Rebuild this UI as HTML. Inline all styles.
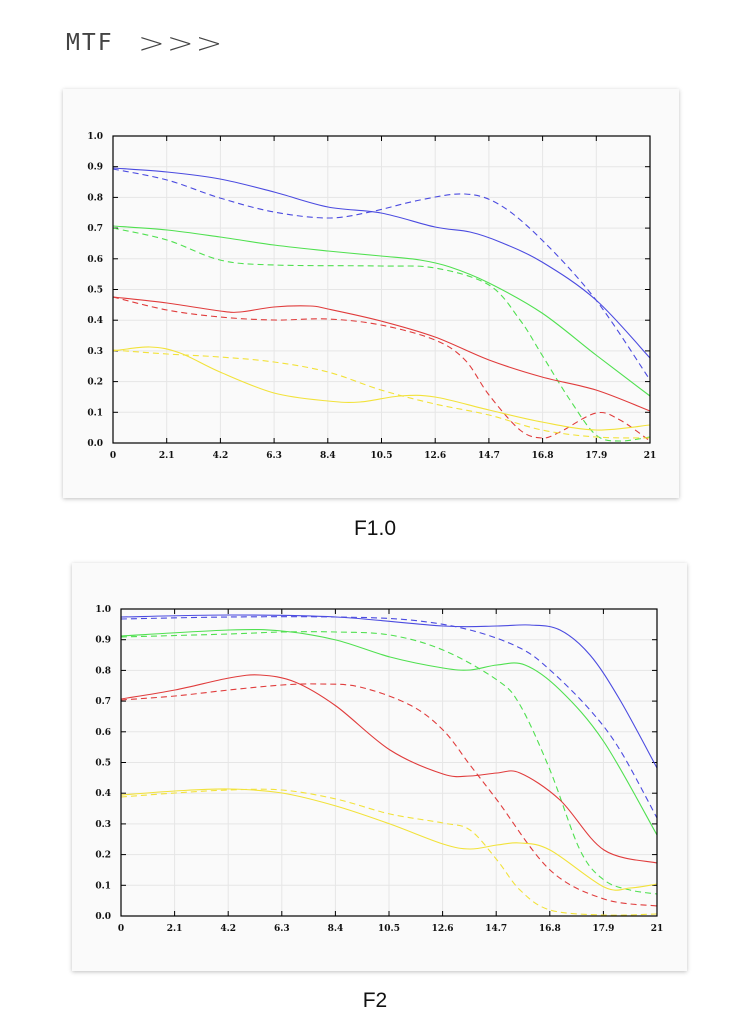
<!DOCTYPE html>
<html><head><meta charset="utf-8"><style>
body{margin:0;width:750px;height:1022px;background:#fff;position:relative;overflow:hidden;font-family:"Liberation Sans",sans-serif}
.title{position:absolute;left:66px;top:30px;font-size:23px;color:#444;letter-spacing:2px;font-family:"DejaVu Sans Mono","Liberation Mono",monospace}
.arr{position:absolute;left:138px;top:24px;font-size:32px;color:#444;letter-spacing:2px;font-family:"DejaVu Sans","Liberation Sans",sans-serif;font-weight:300;transform:scaleY(0.85)}
.card{position:absolute;background:#fafafa;box-shadow:0 1px 4px rgba(0,0,0,0.25)}
.cap{position:absolute;width:750px;text-align:center;font-size:21px;color:#111}
svg{position:absolute;left:0;top:0}
</style></head><body>
<div class="title">MTF</div>
<div class="arr">&gt;&gt;&gt;</div>
<div class="card" style="left:63px;top:89px;width:616px;height:409px"></div>
<div class="card" style="left:72px;top:563px;width:615px;height:408px"></div>
<div class="cap" style="top:517px">F1.0</div>
<div class="cap" style="top:989px">F2</div>
<svg id="s" width="750" height="1022" xmlns="http://www.w3.org/2000/svg"></svg>
<script>
var s=document.getElementById('s'),NS='http://www.w3.org/2000/svg';
function el(t,a,txt){var e=document.createElementNS(NS,t);for(var k in a)e.setAttribute(k,a[k]);if(txt!=null)e.textContent=txt;s.appendChild(e);return e;}
function cr(p){var d='M'+p[0][0]+','+p[0][1];for(var i=0;i<p.length-1;i++){var p0=p[i-1]||p[i],p1=p[i],p2=p[i+1],p3=p[i+2]||p2;
d+=' C'+(p1[0]+(p2[0]-p0[0])/6)+','+(p1[1]+(p2[1]-p0[1])/6)+' '+(p2[0]-(p3[0]-p1[0])/6)+','+(p2[1]-(p3[1]-p1[1])/6)+' '+p2[0]+','+p2[1];}return d;}
var xl=['0','2.1','4.2','6.3','8.4','10.5','12.6','14.7','16.8','17.9','21'];
function chart(L,R,T,B,series){
 var w=R-L,h=B-T;
 el('rect',{x:L,y:T,width:w,height:h,fill:'#fafafa'});
 for(var i=1;i<10;i++){var y=B-h*i/10;el('line',{x1:L,x2:R,y1:y,y2:y,stroke:'#e6e6e6','stroke-width':1});}
 for(var i=1;i<10;i++){var x=L+w*i/10;el('line',{x1:x,x2:x,y1:T,y2:B,stroke:'#e6e6e6','stroke-width':1});}
 for(var i=0;i<=10;i++){var y=B-h*i/10;el('line',{x1:L,x2:L+5,y1:y,y2:y,stroke:'#000'});el('line',{x1:R,x2:R-5,y1:y,y2:y,stroke:'#000'});
  el('text',{x:L-10,y:y+3,'text-anchor':'end','font-size':9,'font-weight':'bold','font-family':'DejaVu Serif,Liberation Serif,serif',fill:'#111'},(i/10).toFixed(1));}
 for(var i=0;i<=10;i++){var x=L+w*i/10;el('line',{x1:x,x2:x,y1:B,y2:B-5,stroke:'#000'});el('line',{x1:x,x2:x,y1:T,y2:T+5,stroke:'#000'});
  el('text',{x:x,y:B+15,'text-anchor':'middle','font-size':9,'font-weight':'bold','font-family':'DejaVu Serif,Liberation Serif,serif',fill:'#111'},xl[i]);}
 series.forEach(function(q){var a={d:cr(q[2]),fill:'none',stroke:q[0],'stroke-width':1.1};if(q[1])a['stroke-dasharray']='6,4';el('path',a);});
 el('rect',{x:L,y:T,width:w,height:h,fill:'none',stroke:'#000','stroke-width':1.2});
}
var B='#4b4be0',G='#50e050',Rd='#e03c3c',Y='#f2e23a';
chart(113,650,136,443,[
[B,0,[[113,168],[167,172],[220,179],[274,192],[328,207],[381,213],[435,227],[470,232],[500,242],[542,262],[596,300],[650,358]]],
[B,1,[[113,169],[167,180],[220,198],[274,212],[328,218],[370,212],[420,200],[465,194],[500,205],[542,240],[596,300],[650,380]]],
[G,0,[[113,226],[167,230],[220,237],[274,245],[328,251],[381,256],[420,260],[450,267],[489,283],[542,313],[596,355],[650,396]]],
[G,1,[[113,228],[167,240],[220,260],[274,265],[381,266],[435,268],[489,285],[520,320],[542,355],[570,400],[596,435],[620,441],[650,437]]],
[Rd,0,[[113,297],[167,303],[220,311],[240,312],[274,307],[310,306],[328,309],[381,321],[435,337],[489,360],[542,377],[596,390],[650,411]]],
[Rd,1,[[113,297],[167,310],[220,317],[274,320],[328,319],[381,325],[435,340],[465,360],[489,395],[520,430],[542,438],[560,432],[596,413],[620,420],[650,441]]],
[Y,0,[[113,351],[150,347],[180,353],[220,372],[274,393],[328,401],[360,402],[400,396],[435,397],[489,410],[542,422],[596,430],[650,425]]],
[Y,1,[[113,350],[167,354],[220,357],[274,362],[328,372],[381,390],[435,404],[489,415],[542,430],[596,437],[650,438]]]
]);
chart(121,657,609,916,[
[B,0,[[121,617],[229,615],[336,617],[443,626],[497,626],[530,625],[560,630],[590,655],[620,700],[657,768]]],
[B,1,[[121,619],[229,617],[336,617],[410,620],[470,630],[520,648],[550,670],[590,710],[620,750],[657,818]]],
[G,0,[[121,636],[229,630],[282,631],[336,640],[390,657],[443,668],[470,670],[497,665],[525,665],[560,690],[604,742],[657,835]]],
[G,1,[[121,637],[229,634],[282,632],[336,632],[390,635],[443,650],[497,680],[520,705],[550,770],[580,850],[604,880],[630,890],[657,894]]],
[Rd,0,[[121,699],[175,690],[229,678],[260,675],[295,682],[336,706],[390,750],[443,774],[470,776],[497,773],[520,773],[560,800],[604,850],[657,863]]],
[Rd,1,[[121,700],[175,696],[229,690],[282,685],[320,684],[360,687],[410,705],[443,730],[470,765],[497,800],[550,870],[604,899],[657,906]]],
[Y,0,[[121,795],[175,791],[229,789],[282,793],[336,806],[390,824],[443,844],[470,849],[497,845],[520,843],[550,850],[604,887],[630,888],[657,884]]],
[Y,1,[[121,797],[175,793],[229,790],[282,790],[336,799],[390,814],[443,823],[470,830],[497,860],[520,890],[550,910],[604,915],[657,914]]]
]);
</script>
</body></html>
